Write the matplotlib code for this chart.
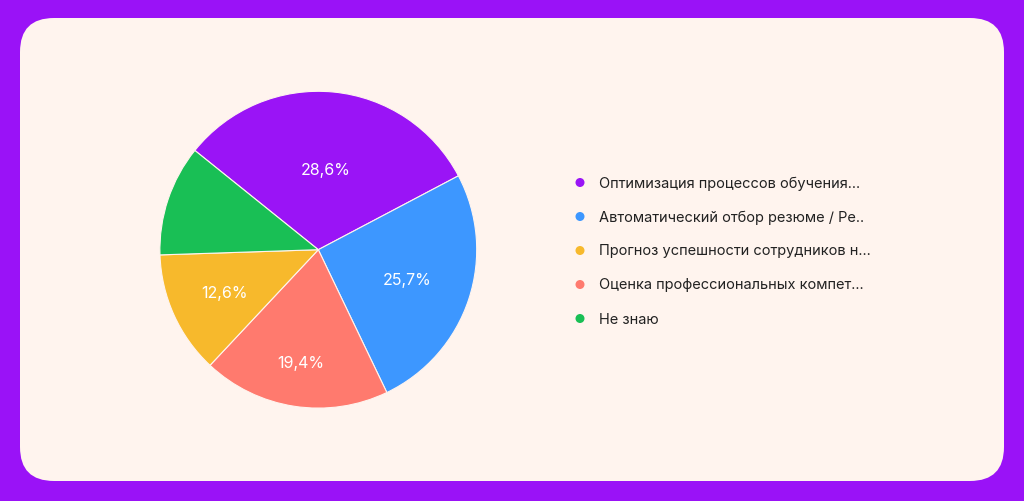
import numpy as np
import matplotlib.pyplot as plt
from matplotlib.patches import FancyBboxPatch

plt.rcParams['font.family'] = ['Inter', 'DejaVu Sans']

categories = ['Оптимизация процессов обучения...',
              'Автоматический отбор резюме / Ре..',
              'Прогноз успешности сотрудников н...',
              'Оценка профессиональных компет...',
              'Не знаю']
# legend order vs. drawing order of slices (clockwise)
slice_order = [0, 1, 3, 2, 4]
shares = [31.5, 25.6, 12.5, 19.1, 11.3]          # slice sizes as drawn, legend order
pct_labels = ['28,6%', '25,7%', '12,6%', '19,4%', '']
colors = ['#9A14F6', '#3D97FF', '#F7B92C', '#FF7A6E', '#19BF55']

# label distance from centre (fraction of radius), legend order
label_dist = [0.51, 0.59, 0.65, 0.72, 0.6]

bg = '#9A12F7'
card = '#FFF4EE'

W, H = 1024, 502
fig = plt.figure(figsize=(W / 100, H / 100), dpi=100)
fig.patch.set_facecolor(bg)

# card background in pixel coordinates
base = fig.add_axes([0, 0, 1, 1])
base.set_xlim(0, W)
base.set_ylim(0, H)
base.axis('off')
base.add_patch(FancyBboxPatch((20, 20), W - 40, H - 39,
                              boxstyle='round,pad=0,rounding_size=34',
                              facecolor=card, edgecolor='none'))

# pie
cx, cy, r = 318.3, 250.7, 158.4
ax = fig.add_axes([(cx - r) / W, (H - cy - r) / H, 2 * r / W, 2 * r / H])
vals = [shares[i] for i in slice_order]
cols = [colors[i] for i in slice_order]
wedges, _ = ax.pie(vals, colors=cols, startangle=141.2, counterclock=False,
                   radius=1, wedgeprops=dict(edgecolor=card, linewidth=0.8))
ax.set_xlim(-1, 1)
ax.set_ylim(-1, 1)
ax.set_aspect('equal')
ax.axis('off')

# percentage labels
for w, i in zip(wedges, slice_order):
    lab = pct_labels[i]
    if not lab:
        continue
    mid = np.deg2rad((w.theta1 + w.theta2) / 2)
    rc = label_dist[i]
    ax.text(rc * np.cos(mid), rc * np.sin(mid), lab, color='white',
            fontsize=11.5, ha='center', va='center')

# legend
for k, (name, col) in enumerate(zip(categories, colors)):
    y = 183.5 + k * 34
    base.scatter([580], [H - y], s=42, color=col, edgecolors='none', zorder=3)
    base.text(599, H - y, name, fontsize=10.5, color='#222222',
              ha='left', va='center')

fig.savefig('out.png', dpi=100, facecolor=bg)
